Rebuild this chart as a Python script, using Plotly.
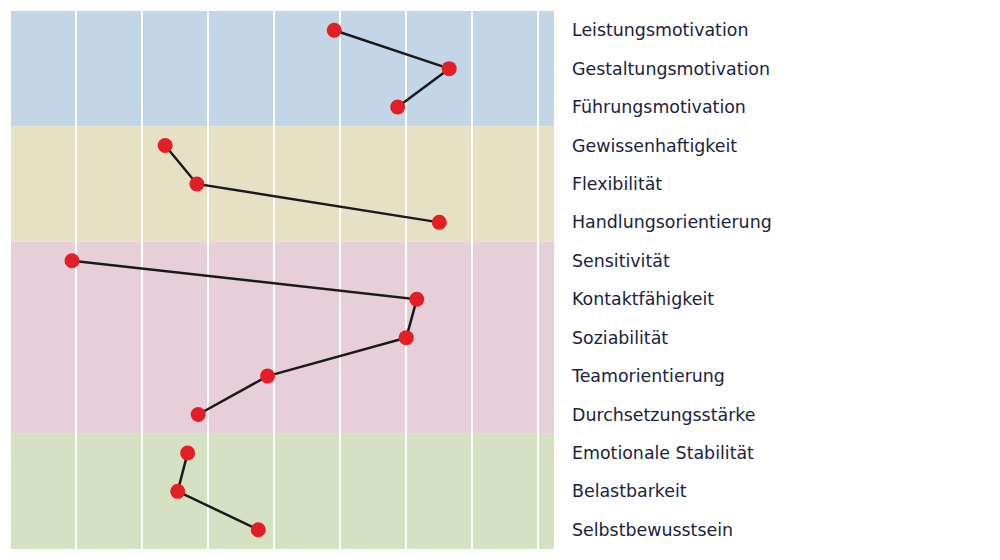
import plotly.graph_objects as go

traits = [
    "Leistungsmotivation", "Gestaltungsmotivation", "Führungsmotivation",
    "Gewissenhaftigkeit", "Flexibilität", "Handlungsorientierung",
    "Sensitivität", "Kontaktfähigkeit", "Soziabilität", "Teamorientierung",
    "Durchsetzungsstärke", "Emotionale Stabilität", "Belastbarkeit",
    "Selbstbewusstsein",
]
scores = [4.91, 6.65, 5.87, 2.35, 2.83, 6.50, 0.94, 6.16, 6.00, 3.90,
          2.85, 2.69, 2.54, 3.76]

# groups of traits: (first row, last row, band colour)
groups = [
    (0, 2, "#c3d6e7"),
    (3, 5, "#e6e0c5"),
    (6, 10, "#e6cfd9"),
    (11, 13, "#d4e2c3"),
]

rows = list(range(len(traits)))

fig = go.Figure()
for first, last, colour in groups:
    fig.add_shape(
        type="rect", xref="x domain", yref="y",
        x0=0, x1=1, y0=first - 0.5, y1=last + 0.5,
        fillcolor=colour, line_width=0, layer="below",
    )
    # profile line is broken between groups
    fig.add_scatter(
        x=scores[first:last + 1], y=rows[first:last + 1], mode="lines+markers",
        line=dict(color="#1a1a1a", width=2.5),
        marker=dict(color="#e31e24", size=15),
        showlegend=False, hoverinfo="skip",
    )

fig.update_xaxes(
    range=[0.016, 8.237], dtick=1, tick0=0, showgrid=True, gridcolor="white",
    gridwidth=2, zeroline=False, showticklabels=False, showline=False,
)
fig.update_yaxes(
    range=[13.5, -0.5], tickvals=rows, ticktext=traits, side="right",
    showgrid=False, zeroline=False, showline=False, ticks="",
    ticklabelstandoff=17,
    tickfont=dict(family="DejaVu Sans", size=17.4, color="#1a2340"),
)
fig.update_layout(
    width=1000, height=560, paper_bgcolor="white", plot_bgcolor="white",
    margin=dict(l=3, r=454, t=3, b=19),
)

fig.write_html("out.html")
